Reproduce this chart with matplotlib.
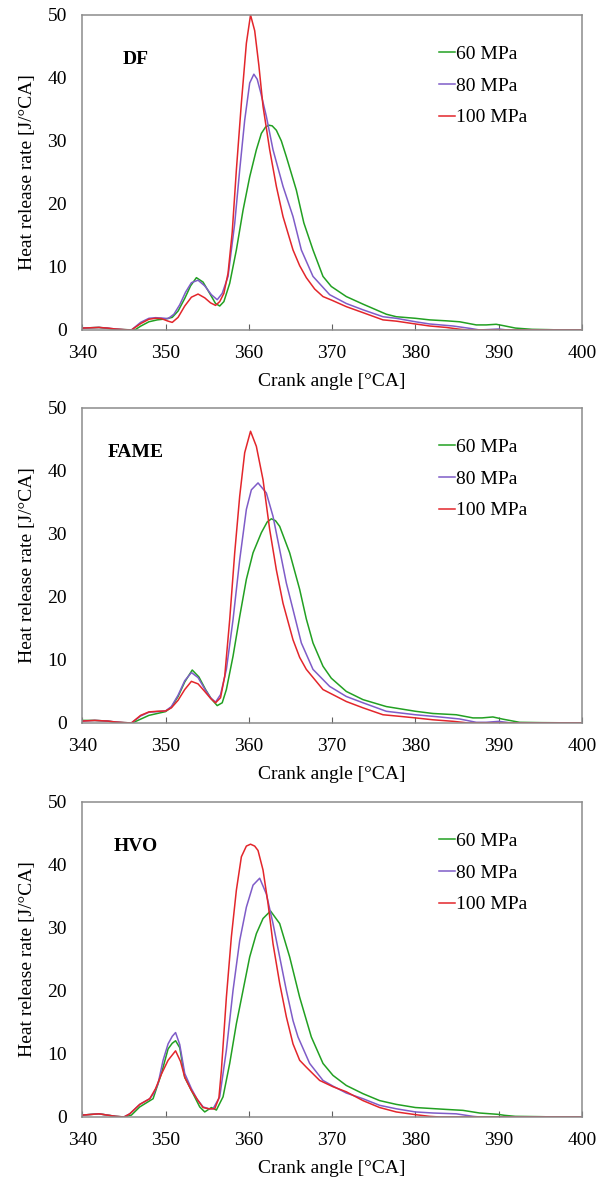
import matplotlib
matplotlib.use("Agg")
import matplotlib.pyplot as plt

# heat release rate curves
# DF
df_100_x = [340, 341, 342, 343, 344, 345, 345.9, 347, 348, 348.8, 349.5, 350.3, 350.8, 351.5, 352.3, 353.1,
            353.9, 354.7, 355.4, 356.0, 356.5, 357.0, 357.5, 358.0, 358.5, 359.1, 359.7, 360.2, 360.7, 361.2,
            361.7, 362.5, 363.3, 364.1, 365.3, 366.1, 366.9, 367.9, 368.9, 370, 371.7, 373.7, 376.1, 377.7,
            380, 381.7, 383.7, 385.3, 386.2, 400]
df_100_y = [0.3, 0.35, 0.4, 0.3, 0.15, 0.05, 0, 1.0, 1.7, 1.85, 1.8, 1.4, 1.2, 2.0, 3.8, 5.2,
            5.7, 5.1, 4.3, 3.9, 4.5, 5.8, 9.0, 15.5, 25.4, 36, 45.5, 50, 47.5, 42,
            35.5, 28.6, 22.8, 18, 12.7, 10.2, 8.3, 6.5, 5.3, 4.7, 3.7, 2.75, 1.6, 1.4,
            0.95, 0.63, 0.4, 0.12, 0, 0]
df_80_x = [340, 341, 342, 343, 344, 345, 345.9, 347, 348, 348.8, 349.5, 350.3, 351, 351.7, 352.4, 353.1,
           353.9, 354.7, 355.5, 356.2, 356.8, 357.5, 358.3, 358.9, 359.5, 360.1, 360.6, 361.0, 361.4, 362.1,
           362.9, 364.1, 365.3, 366.3, 367.7, 369.7, 371.7, 373.7, 376.1, 377.7, 380, 381.7, 384.5, 386.5,
           387.7, 390, 391, 400]
df_80_y = [0.3, 0.35, 0.4, 0.3, 0.15, 0.05, 0, 1.2, 1.85, 1.95, 1.9, 1.8, 2.5, 4.0, 6.0, 7.5,
           7.9, 7.0, 5.6, 4.8, 5.8, 8.5, 16.9, 25.4, 33.3, 39.2, 40.6, 39.8, 37.8, 33.9,
           28.6, 22.8, 18, 12.7, 8.5, 5.6, 4.2, 3.2, 2.1, 1.85, 1.3, 0.95, 0.63, 0.26,
           0, 0.15, 0, 0]
df_60_x = [340, 342, 344, 346.3, 347, 348, 349, 350, 350.8, 351.5, 352.3, 353, 353.7, 354.5, 355.3, 356,
           356.5, 357, 357.7, 358.5, 359.3, 360.1, 360.9, 361.5, 362.0, 362.4, 362.8, 363.3, 363.9, 364.5,
           365.7, 366.6, 367.7, 368.9, 369.9, 371.7, 373.7, 376.5, 377.7, 380, 381.7, 383.7, 385.3, 387.3,
           388.5, 389.7, 390.5, 392, 394, 396, 397.5, 400]
df_60_y = [0.3, 0.4, 0.1, 0, 0.6, 1.3, 1.6, 1.75, 2.0, 3.0, 5.0, 7.0, 8.3, 7.6, 5.8, 4.2,
           3.8, 4.5, 7.4, 12.7, 19, 24.3, 28.6, 31.2, 32.2, 32.5, 32.4, 31.7, 30.0, 27.5,
           22.2, 17, 12.7, 8.5, 6.9, 5.3, 4.1, 2.5, 2.1, 1.85, 1.6, 1.45, 1.3, 0.8,
           0.8, 0.9, 0.7, 0.3, 0.1, 0.05, 0, 0]

# FAME
fame_100_x = [340, 341.5, 343, 344, 345, 345.9, 347, 348, 349, 350, 350.7, 351.5, 352.3, 353.1, 353.9,
              354.7, 355.4, 356.0, 356.6, 357.1, 357.7, 358.3, 358.9, 359.5, 360.2, 360.9, 361.7, 362.5,
              363.3, 364.1, 365.3, 366.1, 366.9, 368.9, 371.7, 373.7, 376.1, 378.1, 380, 382.1, 384.5,
              386.3, 400]
fame_100_y = [0.3, 0.4, 0.3, 0.15, 0.05, 0, 1.2, 1.75, 1.85, 1.9, 2.4, 3.6, 5.3, 6.6, 6.2,
              5.0, 3.9, 3.2, 4.0, 7.4, 16.4, 27, 36, 42.9, 46.3, 43.9, 38.6, 30.7,
              24.3, 19, 13.2, 10.4, 8.5, 5.3, 3.4, 2.4, 1.3, 1.05, 0.8, 0.5, 0.26,
              0, 0]
fame_80_x = [340, 341.5, 343, 344, 345, 345.9, 347, 348, 349, 350, 350.7, 351.5, 352.3, 353.1, 353.9,
             354.7, 355.4, 356.0, 356.6, 357.3, 358.1, 358.9, 359.7, 360.3, 361.1, 362.1, 362.9, 363.7,
             364.5, 365.3, 366.3, 367.7, 369.7, 371.7, 373.7, 376.5, 380, 382.9, 385.3, 387.3, 388.5,
             390, 391.5, 400]
fame_80_y = [0.3, 0.4, 0.3, 0.15, 0.05, 0, 1.1, 1.7, 1.8, 1.9, 2.6, 4.4, 6.7, 8.0, 7.2,
             5.4, 4.0, 3.3, 4.5, 8.5, 16.4, 25.9, 33.9, 37, 38.1, 36.5, 32.8, 27.5,
             22.2, 18, 12.7, 8.5, 5.8, 4.2, 3.2, 1.85, 1.3, 0.95, 0.63, 0.1, 0.1,
             0.25, 0, 0]
fame_60_x = [340, 341.5, 343, 344, 346, 347, 348, 349, 350, 350.7, 351.5, 352.3, 353.2, 354, 354.8,
             355.5, 356.2, 356.8, 357.3, 358.1, 358.9, 359.7, 360.5, 361.5, 362.2, 362.7, 363.2, 363.7,
             364.9, 366.1, 366.9, 367.7, 368.9, 369.9, 371.7, 373.7, 376.5, 380, 382.1, 384.9, 386.9,
             388, 389.3, 390.5, 392.5, 395, 400]
fame_60_y = [0.4, 0.4, 0.3, 0.1, 0, 0.6, 1.2, 1.5, 1.8, 2.5, 4.2, 6.5, 8.4, 7.3, 5.3,
             3.8, 2.75, 3.2, 5.3, 10.6, 16.9, 22.8, 27, 30.2, 31.9, 32.4, 32.1, 31.2,
             27, 21.2, 16.5, 12.7, 9, 7.1, 5.0, 3.7, 2.6, 1.85, 1.5, 1.3, 0.8,
             0.8, 0.95, 0.6, 0.1, 0.05, 0]

# HVO
hvo_100_x = [340, 342, 343, 344, 345, 345.7, 346.9, 348.1, 348.8, 349.5, 350.3, 351.2, 351.8, 352.3,
             353.1, 353.9, 354.5, 355.2, 355.9, 356.4, 356.7, 357.3, 357.9, 358.5, 359.1, 359.7, 360.2,
             360.7, 361.1, 361.7, 362.3, 362.9, 363.7, 364.5, 365.3, 366.1, 366.9, 368.5, 370.1, 371.7,
             373.7, 375.7, 377.7, 380, 381.7, 382.9, 400]
hvo_100_y = [0.3, 0.5, 0.3, 0.1, 0, 0.5, 2.0, 2.9, 4.5, 6.8, 9.0, 10.5, 8.8, 6.3,
             4.2, 2.6, 1.5, 1.3, 1.3, 3.0, 7.4, 19, 28.6, 36, 41.3, 43, 43.3,
             43.0, 42.3, 39.2, 33.9, 27.5, 21.2, 15.9, 11.6, 9.0, 7.9, 5.8, 4.8, 4.0,
             2.6, 1.5, 0.8, 0.37, 0.1, 0, 0]
hvo_80_x = [340, 342, 343, 344, 345, 345.7, 346.9, 348.1, 348.6, 349.1, 349.7, 350.3, 350.8, 351.2,
            351.7, 352.3, 353.1, 353.8, 354.5, 355.2, 355.7, 356.5, 357.3, 358.1, 358.9, 359.7, 360.5,
            361.3, 362.1, 362.9, 363.7, 364.5, 365.3, 365.9, 367.3, 368.9, 370.1, 371.7, 373.7, 375.7,
            377.7, 380, 382.1, 384.9, 386.9, 387.7, 400]
hvo_80_y = [0.3, 0.5, 0.3, 0.1, 0, 0.5, 2.0, 2.9, 3.8, 5.3, 9.0, 11.6, 12.8, 13.4,
            11.5, 6.9, 4.5, 2.8, 1.6, 1.3, 1.3, 3.2, 10.6, 20.1, 28, 33.3, 36.8,
            37.9, 35.4, 30.7, 25.4, 20.1, 15.3, 12.7, 8.5, 5.8, 4.9, 3.8, 2.9, 1.85,
            1.3, 0.8, 0.63, 0.5, 0.1, 0, 0]
hvo_60_x = [340, 342, 343, 344, 345, 345.9, 346.9, 348.5, 349.5, 350.3, 350.8, 351.2, 351.7, 352.3,
            353.3, 354.1, 354.7, 355.5, 356.1, 356.9, 357.7, 358.5, 359.3, 360.1, 360.9, 361.7, 362.6,
            363.7, 364.9, 366.1, 367.5, 368.9, 370.1, 371.7, 373.7, 375.7, 377.7, 380, 383.7, 385.7,
            387.7, 389.9, 390.7, 392, 395, 397, 400]
hvo_60_y = [0.3, 0.5, 0.3, 0.1, 0, 0.3, 1.6, 2.9, 6.9, 10.8, 11.7, 12.1, 11.0, 6.3,
            3.7, 1.6, 0.8, 1.5, 1.1, 3.2, 8.5, 14.8, 20.1, 25.4, 29.1, 31.5, 32.7,
            30.7, 25.4, 19, 12.7, 8.5, 6.6, 5.0, 3.7, 2.6, 2.0, 1.5, 1.2, 1.05,
            0.63, 0.42, 0.26, 0.1, 0.05, 0, 0]

fuels = ["DF", "FAME", "HVO"]
labels = ["60 MPa", "80 MPa", "100 MPa"]
colors = ["#22a022", "#7f5cc8", "#e3262b"]

panels = [
    [(df_60_x, df_60_y), (df_80_x, df_80_y), (df_100_x, df_100_y)],
    [(fame_60_x, fame_60_y), (fame_80_x, fame_80_y), (fame_100_x, fame_100_y)],
    [(hvo_60_x, hvo_60_y), (hvo_80_x, hvo_80_y), (hvo_100_x, hvo_100_y)],
]

plt.rcParams['font.family'] = ['Liberation Serif', 'DejaVu Serif']
plt.rcParams['font.size'] = 14

fig = plt.figure(figsize=(6.06, 11.78), dpi=100)
bottoms = [0.7199, 0.3863, 0.0518]

for i in range(3):
    ax = fig.add_axes([0.1358, bottoms[i], 0.8246, 0.2674])
    for (xs, ys), lab, col in zip(panels[i], labels, colors):
        ax.plot(xs, ys, color=col, lw=1.1, label=lab)
    ax.set_xlim(340, 400)
    ax.set_ylim(0, 50)
    ax.set_xticks(range(340, 401, 10))
    ax.set_yticks(range(0, 51, 10))
    for s in ax.spines.values():
        s.set_color("#8c8c8c")
        s.set_linewidth(1.1)
    ax.tick_params(axis='x', direction='in', length=4, color="#606060", pad=10.5)
    ax.tick_params(axis='y', length=0, pad=11)
    ax.set_xlabel("Crank angle [°CA]", labelpad=8)
    ax.set_ylabel("Heat release rate [J/°CA]", labelpad=8)
    ax.text(346.4, 43, fuels[i], ha='center', va='center', fontweight='bold', fontsize=14)
    ax.legend(loc='upper left', bbox_to_anchor=(0.713, 0.904), frameon=False,
              borderpad=0, borderaxespad=0, handlelength=0.85, handletextpad=0.05,
              labelspacing=0.73)

fig.savefig("out.png", dpi=100)
